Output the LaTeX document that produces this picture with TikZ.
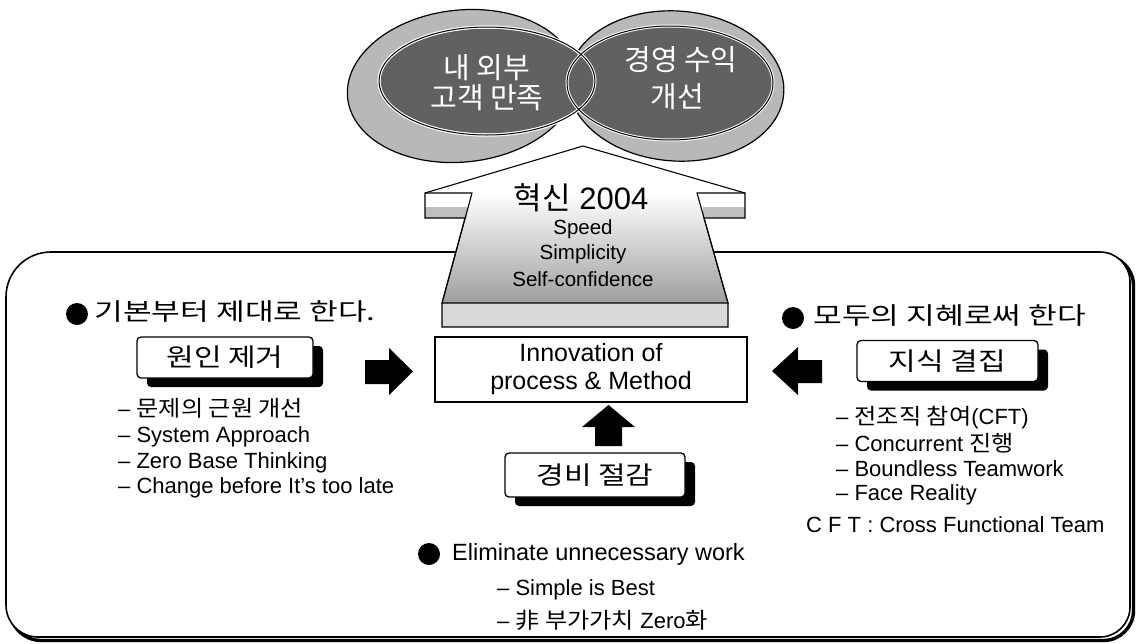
\documentclass[tikz,border=0pt]{standalone}
\usepackage{fontspec}
\setmainfont{Liberation Sans}
\newfontfamily\kr{Noto Sans CJK KR}
\newfontfamily\krl[FakeStretch=1.1]{Noto Sans CJK KR}
\newfontfamily\krw[FakeStretch=1.3]{Noto Sans CJK KR}
\newfontfamily\krb[FakeStretch=1.2]{Noto Sans CJK KR}
\newcommand\myfs[1]{\fontsize{#1}{#1}\selectfont}
\usetikzlibrary{shadows}
\tikzset{
  outerring/.style={fill=black!28, draw=black, line width=1.2},
  innerell/.style={fill=black!62, draw=white, line width=3},
  innerline/.style={draw=black, line width=1},
  elltext/.style={text=white, font=\kr\myfs{29}},
  kbox/.style={draw=black, line width=1.3, fill=white, rounded corners=4,
    minimum width=176, minimum height=41, inner sep=0,
    drop shadow={shadow xshift=10pt, shadow yshift=-9pt, fill=black, opacity=1},
    font=\krb\myfs{25}},
  headtext/.style={anchor=west, font=\krw\myfs{24}},
  listtext/.style={anchor=west, font=\myfs{22}, inner sep=0},
  bulletdot/.style={circle, fill=black, inner sep=0, minimum size=22},
  blockarrow/.style={fill=black},
  arrowtext/.style={font=\myfs{20.5}, inner sep=0},
}
\begin{document}
\begin{tikzpicture}[x=1pt,y=-1pt]
\useasboundingbox (0,0) rectangle (1137,643);
% ---- frame (shadow then frame)
\draw[line width=3.4, xshift=3.5pt, yshift=-3.5pt]
  (6,450) -- (6,297) .. controls (6,272) and (26,252) .. (51,252)
  -- (1100,252) .. controls (1116.5,252) and (1130,265.5) .. (1130,282)
  -- (1130,607) .. controls (1130,623.5) and (1116.5,637) .. (1100,637)
  -- (38,637) .. controls (20.3,637) and (6,622.7) .. (6,605) -- cycle;
\draw[line width=1.6, fill=white]
  (6,450) -- (6,297) .. controls (6,272) and (26,252) .. (51,252)
  -- (1100,252) .. controls (1116.5,252) and (1130,265.5) .. (1130,282)
  -- (1130,607) .. controls (1130,623.5) and (1116.5,637) .. (1100,637)
  -- (38,637) .. controls (20.3,637) and (6,622.7) .. (6,605) -- cycle;

% ---- ellipses
\path[outerring] (462,86) ellipse[x radius=115, y radius=76, rotate=6];
\path[outerring] (676,86) ellipse[x radius=108, y radius=75, rotate=-4];
\path[innerell] (487,81) ellipse[x radius=108, y radius=54];
\path[innerell] (670,83) ellipse[x radius=103, y radius=57];
\draw[white, line width=3] (487,81) ellipse[x radius=108, y radius=54];
\path[innerline] (487,81) ellipse[x radius=108, y radius=54];
\path[innerline] (670,83) ellipse[x radius=103, y radius=57];
\node[elltext] (e1) at (487,68) {내 외부};
\node[elltext] (e2) at (487,98) {고객 만족};
\node[elltext] (e3) at (681,60) {경영 수익};
\node[elltext] (e4) at (677,97) {개선};

% ---- big arrow
\fill[white] (583,146) -- (425,193) -- (425,218) -- (465,218) -- (442,303)
  -- (442,327) -- (728,327) -- (728,303) -- (704,218) -- (745,218) -- (745,193) -- cycle;
\shade[top color=white, middle color=black!8, bottom color=black!38]
  (472,193) -- (442,303) -- (728,303) -- (697,193) -- cycle;
\fill[black!15] (442,303) rectangle (728,327);
\fill[black!25] (425,207) rectangle (467,218);
\fill[black!25] (703,207) rectangle (745,218);
\draw[line width=1.1, line join=miter] (583,146) -- (425,193) -- (425,218) -- (465,218) -- (442,303)
  -- (442,327) -- (728,327) -- (728,303) -- (704,218) -- (745,218) -- (745,193) -- cycle;
\draw[line width=1.1] (425,193) -- (472,193) -- (442,303) -- (728,303) -- (697,193) -- (745,193);
\node[font=\myfs{31}, inner sep=0] (t0) at (581,198) {{\kr 혁신} 2004};
\node[arrowtext] (t1) at (583,229) {Speed};
\node[arrowtext] (t2) at (583,254) {Simplicity};
\node[arrowtext] (t3) at (583,279) {Self-confidence};

% ---- centre box
\node[draw=black, line width=1.3, fill=white, minimum width=312, minimum height=65,
  align=center, font=\fontsize{25}{28}\selectfont, inner sep=0] (innov) at (591,369.5)
  {Innovation of\\process \& Method};

% ---- left group
\node[bulletdot] (b1) at (77,314) {};
\node[headtext] (h1) at (91,312) {기본부터 제대로 한다.};
\node[kbox] (cause) at (225,357.5) {원인 제거};
\fill[blockarrow] (365,360) -- (389,360) -- (389,348) -- (413,371.5) -- (389,395) -- (389,384) -- (365,384) -- cycle;
\node[listtext] (l1) at (118,408) {– {\krl 문제의 근원 개선}};
\node[listtext] (l2) at (118,437) {– System Approach};
\node[listtext] (l3) at (118,463) {– Zero Base Thinking};
\node[listtext] (l4) at (118,488) {– Change before It’s too late};

% ---- right group
\node[bulletdot] (b2) at (793,318) {};
\node[headtext] (h2) at (810,316) {모두의 지혜로써 한다};
\node[kbox, minimum width=181] (know) at (947.5,361) {지식 결집};
\fill[blockarrow] (822,360) -- (798,360) -- (798,347) -- (772,371) -- (798,395) -- (798,383) -- (822,383) -- cycle;
\node[listtext] (r1) at (836,418) {– {\krl 전조직 참여}(CFT)};
\node[listtext] (r2) at (836,443) {– Concurrent {\krl 진행}};
\node[listtext] (r3) at (836,469) {– Boundless Teamwork};
\node[listtext] (r4) at (836,495) {– Face Reality};
\node[listtext] (r5) at (806,525) {C F T : Cross Functional Team};

% ---- bottom group
\fill[blockarrow] (595,446) -- (595,427) -- (582,427) -- (608.5,405) -- (635,427) -- (622,427) -- (622,446) -- cycle;
\node[kbox, minimum width=180, minimum height=44] (cost) at (595,475) {경비 절감};
\node[bulletdot] (b3) at (429,554) {};
\node[listtext, font=\myfs{23.5}] (h3) at (452,554) {Eliminate unnecessary work};
\node[listtext] (d1) at (497,590) {– Simple is Best};
\node[listtext] (d2) at (497,620) {– {\krl 非 부가가치} Zero{\krl 화}};
\end{tikzpicture}
\end{document}
